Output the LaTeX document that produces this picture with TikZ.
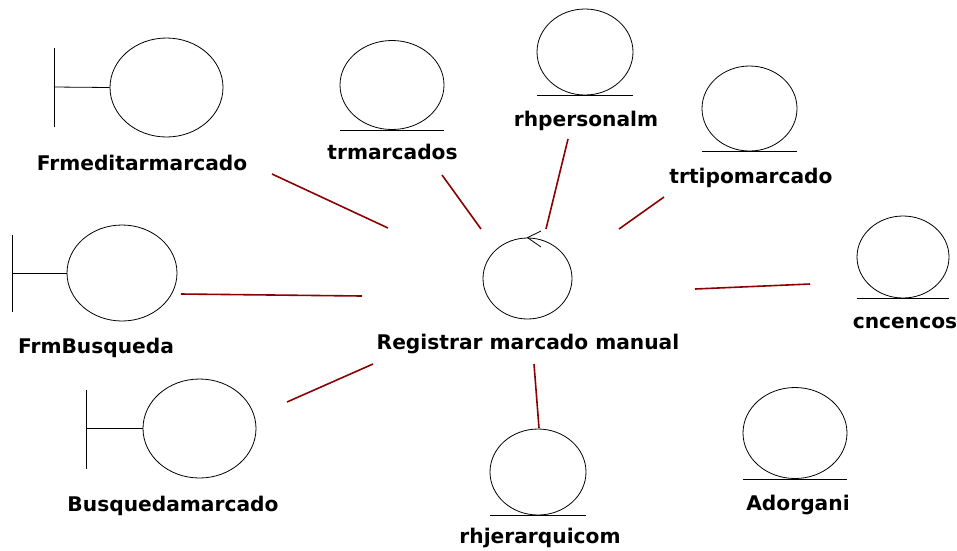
\documentclass[tikz,border=0pt]{standalone}
\usepackage{fontspec}
\setmainfont{DejaVu Sans}
\usetikzlibrary{shapes.geometric}
\definecolor{linkred}{HTML}{8B0000}
\begin{document}
\begin{tikzpicture}[x=1pt,y=-1pt,
  obj/.style={ellipse, draw=black, line width=0.8pt, inner sep=0pt},
  lbl/.style={font=\fontsize{20.2}{24}\selectfont\bfseries, anchor=base, inner sep=0pt},
  bar/.style={draw=black, line width=0.8pt},
  link/.style={draw=linkred, line width=1.6pt}]
\useasboundingbox (0,0) rectangle (957,550);

% ---- boundaries ----
\node[obj, minimum width=113pt, minimum height=99pt] (bFrm) at (166.5,87.5) {};
\draw[bar] (54,48) -- (54,127);
\draw[bar] (54,87) -- (bFrm.west);
\node[lbl] (lFrm) at (142,170) {Frmeditarmarcado};

\node[obj, minimum width=110pt, minimum height=96pt] (bBus) at (122,273) {};
\draw[bar] (12,235) -- (12,312);
\draw[bar] (12,273) -- (bBus.west);
\node[lbl] (lBus) at (96,353) {FrmBusqueda};

\node[obj, minimum width=113pt, minimum height=99pt] (bBm) at (199.5,428.5) {};
\draw[bar] (86,390) -- (86,469);
\draw[bar] (86,428.5) -- (bBm.west);
\node[lbl] (lBm) at (173,511) {Busquedamarcado};

% ---- entities ----
\node[obj, minimum width=104pt, minimum height=89pt] (eTr) at (392,85) {};
\draw[bar] ([xshift=-52pt]eTr.south) -- ([xshift=52pt]eTr.south);
\node[lbl] (lTr) at (392.5,159) {trmarcados};

\node[obj, minimum width=96pt, minimum height=86pt] (eRp) at (585,52) {};
\draw[bar] ([xshift=-48pt]eRp.south) -- ([xshift=48pt]eRp.south);
\node[lbl] (lRp) at (586,126) {rhpersonalm};

\node[obj, minimum width=95pt, minimum height=85pt] (eTt) at (749.5,108.5) {};
\draw[bar] ([xshift=-47.5pt]eTt.south) -- ([xshift=47.5pt]eTt.south);
\node[lbl] (lTt) at (751,183) {trtipomarcado};

\node[obj, minimum width=92pt, minimum height=82pt] (eCn) at (903,257) {};
\draw[bar] ([xshift=-46pt]eCn.south) -- ([xshift=46pt]eCn.south);
\node[lbl] (lCn) at (905,328) {cncencos};

\node[obj, minimum width=104pt, minimum height=91pt] (eAd) at (795,433) {};
\draw[bar] ([xshift=-52pt]eAd.south) -- ([xshift=52pt]eAd.south);
\node[lbl] (lAd) at (798,510) {Adorgani};

\node[obj, minimum width=96pt, minimum height=86pt] (eRj) at (538,472) {};
\draw[bar] ([xshift=-48pt]eRj.south) -- ([xshift=48pt]eRj.south);
\node[lbl] (lRj) at (540,543) {rhjerarquicom};

% ---- control ----
\node[obj, minimum width=89pt, minimum height=81pt] (ctl) at (527.5,278.5) {};
\draw[bar] (541,231) -- (ctl.north) -- (541,247);
\node[lbl] (lCtl) at (528,349) {Registrar marcado manual};

% ---- connector end points ----
\coordinate (a1) at (272,174); \coordinate (c1) at (388,228);
\coordinate (a2) at (442,175); \coordinate (c2) at (481,229);
\coordinate (a3) at (568,139); \coordinate (c3) at (546,229);
\coordinate (a4) at (664,197); \coordinate (c4) at (619,229);
\coordinate (a5) at (181,294); \coordinate (c5) at (362,296);
\coordinate (a6) at (810,284); \coordinate (c6) at (695,289);
\coordinate (a7) at (287,402); \coordinate (c7) at (373,364);
\coordinate (a8) at (539,428); \coordinate (c8) at (534,364);

\draw[link] (a1) -- (c1);
\draw[link] (a2) -- (c2);
\draw[link] (a3) -- (c3);
\draw[link] (a4) -- (c4);
\draw[link] (a5) -- (c5);
\draw[link] (a6) -- (c6);
\draw[link] (a7) -- (c7);
\draw[link] (a8) -- (c8);
\end{tikzpicture}
\end{document}
